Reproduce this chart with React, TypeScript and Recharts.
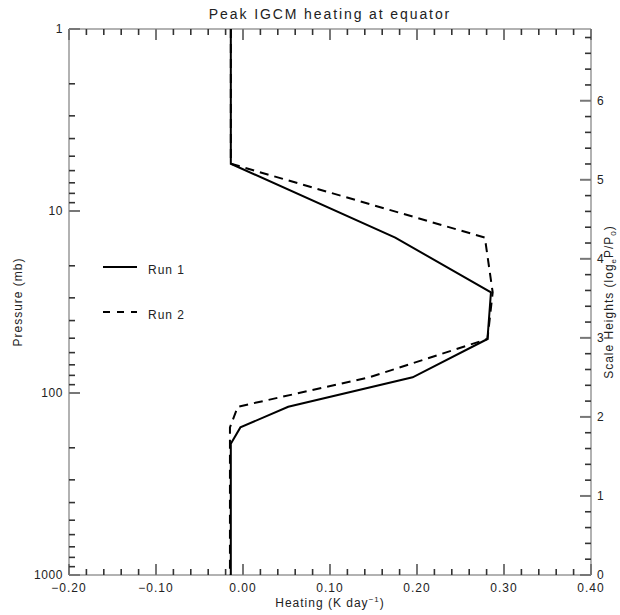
import React from "react";
import { ScatterChart, Scatter, XAxis, YAxis } from "recharts";

// model levels (mb) and peak heating (K/day)
const PRESSURE = [1, 5.5, 14, 28, 50.5, 82, 119, 154.5, 190, 1000];
const RUN1 = [-0.014, -0.014, 0.175, 0.285, 0.281, 0.195, 0.052, -0.003, -0.014, -0.014];
const RUN2 = [-0.014, -0.014, 0.278, 0.287, 0.281, 0.145, -0.006, -0.015, -0.015, -0.015];

const HEAT_MAJOR = [-0.2, -0.1, 0, 0.1, 0.2, 0.3, 0.4];
const PRES_MAJOR = [1, 10, 100, 1000];
const PRES_MINOR = [2, 3, 4, 5, 6, 7, 8, 9, 20, 30, 40, 50, 60, 70, 80, 90, 200, 300, 400, 500, 600, 700, 800, 900];
const SH_MAJOR = [0, 1, 2, 3, 4, 5, 6];

const TITLE = "Peak IGCM heating at equator";

const SERIES = [
  { name: "Run 1", values: RUN1, dash: undefined, legendDash: undefined },
  { name: "Run 2", values: RUN2, dash: "9 6", legendDash: "7 7" },
];

// minor ticks every 0.02 on heating, every 0.2 on scale heights
const HEAT_TICKS = Array.from({ length: 31 }, (_, i) => Math.round((-0.2 + i * 0.02) * 100) / 100);
const SH_TICKS = Array.from({ length: 35 }, (_, i) => i / 5);
const PRES_TICKS = [...PRES_MAJOR, ...PRES_MINOR].sort((a, b) => a - b);

const FONT = "'Liberation Sans', Arial, sans-serif";
const TEXT = "#222";
const AXIS = "#999";

const labelStyle = { fontFamily: FONT, fontSize: 12, fill: TEXT, letterSpacing: 1 };

const isMajor = (v: number, majors: number[]) => majors.some((m) => Math.abs(m - v) < 1e-6);

function fmtHeat(v: number) {
  const s = Math.abs(v).toFixed(2);
  return v < -1e-9 ? "\u2212" + s : s;
}

// inward tick mark; (dx, dy) points into the plot
function Mark({ x, y, dx, dy, major }: any) {
  const len = major ? 11 : 6;
  return (
    <line
      x1={x}
      y1={y}
      x2={x + dx * len}
      y2={y + dy * len}
      stroke={major ? "#777" : "#333"}
      strokeWidth={major ? 2 : 1.6}
    />
  );
}

function HeatTick(props: any) {
  const x = Number(props.x);
  const y = Number(props.y);
  const v = props.payload.value;
  const major = isMajor(v, HEAT_MAJOR);
  return (
    <g>
      <Mark x={x} y={y} dx={0} dy={-1} major={major} />
      {major && (
        <text x={x} y={y + 17} textAnchor="middle" style={labelStyle}>
          {fmtHeat(v)}
        </text>
      )}
    </g>
  );
}

function TopTick(props: any) {
  const x = Number(props.x);
  const y = Number(props.y);
  return (
    <g>
      <Mark x={x} y={y} dx={0} dy={1} major={isMajor(props.payload.value, HEAT_MAJOR)} />
    </g>
  );
}

function PresTick(props: any) {
  const x = Number(props.x);
  const y = Number(props.y);
  const v = props.payload.value;
  const major = isMajor(v, PRES_MAJOR);
  return (
    <g>
      <Mark x={x} y={y} dx={1} dy={0} major={major} />
      {major && (
        <text x={x - 6} y={y + 4} textAnchor="end" style={{ ...labelStyle, letterSpacing: 0.6 }}>
          {v}
        </text>
      )}
    </g>
  );
}

function ShTick(props: any) {
  const x = Number(props.x);
  const y = Number(props.y);
  const v = props.payload.value;
  const major = isMajor(v, SH_MAJOR);
  return (
    <g>
      <Mark x={x} y={y} dx={-1} dy={0} major={major} />
      {major && (
        <text x={x + 6} y={y + 4} textAnchor="start" style={labelStyle}>
          {v}
        </text>
      )}
    </g>
  );
}

const text12 = { fontFamily: FONT, fontSize: 12, color: TEXT, letterSpacing: 1, whiteSpace: "nowrap" as const };

function RunLegend() {
  return (
    <div style={{ position: "absolute", left: 102, top: 244, ...text12 }}>
      {SERIES.map((s) => (
        <div key={s.name} style={{ display: "flex", alignItems: "center", height: 45 }}>
          <svg width={36} height={6} style={{ display: "block" }}>
            <line x1={1} x2={35} y1={3} y2={3} stroke="#000" strokeWidth={2} strokeDasharray={s.legendDash} />
          </svg>
          <span style={{ marginLeft: 10, paddingTop: 7 }}>{s.name}</span>
        </div>
      ))}
    </div>
  );
}

const NoDot = () => <g />;

export default function App() {
  const series = SERIES.map((s) => ({
    ...s,
    data: PRESSURE.map((p, i) => ({ p, heat: s.values[i] })),
  }));

  return (
    <div style={{ position: "absolute", left: 0, top: 0, width: 620, height: 615, background: "#fff" }}>
      <ScatterChart width={620} height={615} margin={{ top: 0, right: 0, bottom: 0, left: 0 }}>
        <XAxis
          xAxisId={0}
          type="number"
          dataKey="heat"
          domain={[-0.2, 0.4]}
          allowDataOverflow
          ticks={HEAT_TICKS}
          interval={0}
          height={40}
          tickSize={0}
          tickMargin={0}
          tickLine={false}
          tick={HeatTick}
          axisLine={{ stroke: AXIS, strokeWidth: 1.5 }}
        />
        <XAxis
          xAxisId="top"
          orientation="top"
          type="number"
          dataKey="heat"
          domain={[-0.2, 0.4]}
          allowDataOverflow
          ticks={HEAT_TICKS}
          interval={0}
          height={29}
          tickSize={0}
          tickMargin={0}
          tickLine={false}
          tick={TopTick}
          axisLine={{ stroke: AXIS, strokeWidth: 1.5 }}
        />
        <YAxis
          yAxisId={0}
          type="number"
          dataKey="p"
          scale="log"
          domain={[1, 1000]}
          allowDataOverflow
          reversed
          ticks={PRES_TICKS}
          interval={0}
          width={69}
          tickSize={0}
          tickMargin={0}
          tickLine={false}
          tick={PresTick}
          axisLine={{ stroke: AXIS, strokeWidth: 1.5 }}
        />
        <YAxis
          yAxisId="right"
          orientation="right"
          type="number"
          dataKey="sh"
          domain={[0, Math.log(1000)]}
          allowDataOverflow
          ticks={SH_TICKS}
          interval={0}
          width={29}
          tickSize={0}
          tickMargin={0}
          tickLine={false}
          tick={ShTick}
          axisLine={{ stroke: AXIS, strokeWidth: 1.5 }}
        />
        {series.map((s) => (
          <Scatter
            key={s.name}
            name={s.name}
            data={s.data}
            xAxisId={0}
            yAxisId={0}
            fill="#000"
            shape={NoDot}
            line={{ stroke: "#000", strokeWidth: 2, strokeDasharray: s.dash }}
            lineType="joint"
            isAnimationActive={false}
          />
        ))}
      </ScatterChart>

      {/* titles */}
      <div
        style={{
          position: "absolute",
          left: 69,
          width: 522,
          top: 6,
          textAlign: "center",
          fontFamily: FONT,
          fontSize: 14,
          color: TEXT,
          letterSpacing: 1.9,
          whiteSpace: "nowrap",
        }}
      >
        {TITLE}
      </div>
      <div style={{ position: "absolute", left: 69, width: 522, top: 595, textAlign: "center", ...text12 }}>
        Heating (K day<sup style={{ fontSize: 8 }}>{"\u22121"}</sup>)
      </div>
      <div
        style={{
          position: "absolute",
          left: 18,
          top: 302,
          transform: "translate(-50%, -50%) rotate(-90deg)",
          ...text12,
        }}
      >
        Pressure (mb)
      </div>
      <div
        style={{
          position: "absolute",
          left: 610,
          top: 302,
          transform: "translate(-50%, -50%) rotate(-90deg)",
          ...text12,
        }}
      >
        Scale Heights (log<sub style={{ fontSize: 8 }}>e</sub>P/P<sub style={{ fontSize: 8 }}>0</sub>)
      </div>
      <RunLegend />
    </div>
  );
}
